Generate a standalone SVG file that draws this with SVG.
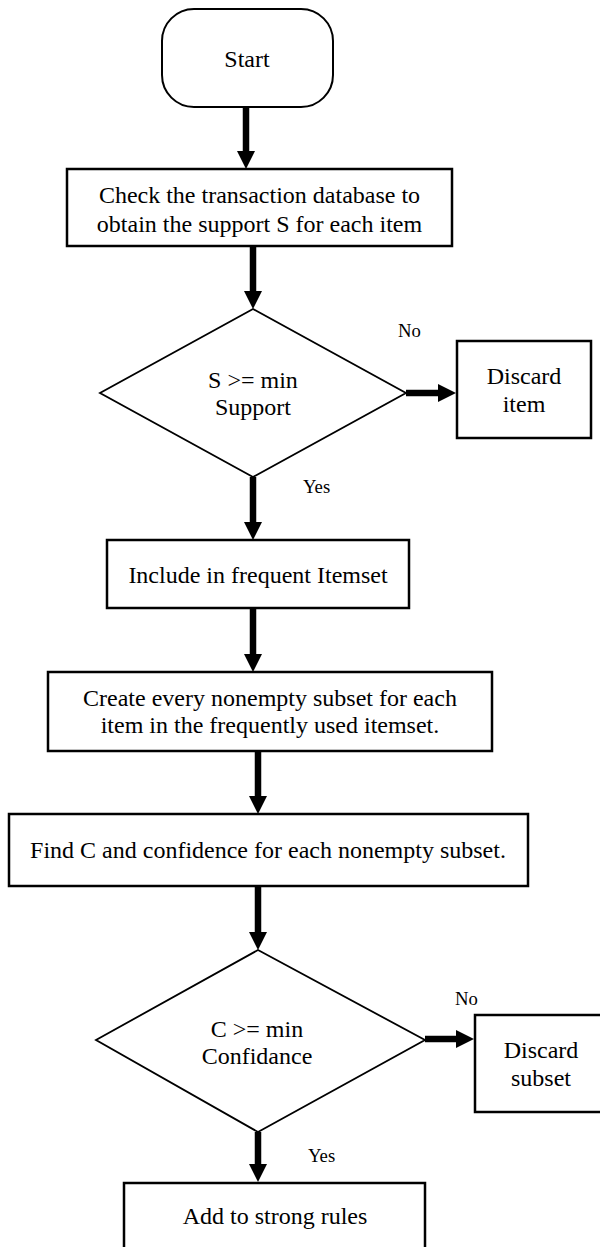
<svg xmlns="http://www.w3.org/2000/svg" width="600" height="1247" viewBox="0 0 600 1247">
<style>
.box{fill:#fff;stroke:#000;stroke-width:2.5}
.dia{fill:#fff;stroke:#000;stroke-width:1.8}
.ntext{font-family:'Liberation Serif','Times New Roman',serif;font-size:24px;fill:#000;text-anchor:middle}
.lbl{font-family:'Liberation Serif','Times New Roman',serif;font-size:18.7px;fill:#000}
.c{stroke:#000;stroke-width:6.5;fill:none;marker-end:url(#ah)}
</style>
<defs>
<marker id="ah" markerUnits="userSpaceOnUse" markerWidth="18" markerHeight="18" refX="0" refY="9" orient="auto" viewBox="0 0 18 18">
<path d="M0,0 L18,9 L0,18 Z" fill="#000"/>
</marker>
</defs>
<rect width="600" height="1247" fill="#fff"/>
<g id="connectors">
<line class="c" x1="246" y1="107" x2="246" y2="151"/>
<line class="c" x1="253" y1="246" x2="253" y2="291"/>
<line class="c" x1="406" y1="393" x2="438" y2="393"/>
<line class="c" x1="253" y1="477" x2="253" y2="522"/>
<line class="c" x1="253" y1="608" x2="253" y2="654"/>
<line class="c" x1="258" y1="751" x2="258" y2="796"/>
<line class="c" x1="258" y1="886" x2="258" y2="932"/>
<line class="c" x1="425" y1="1039" x2="456" y2="1039"/>
<line class="c" x1="258" y1="1132" x2="258" y2="1164"/>
<text class="lbl" x="398" y="337">No</text>
<text class="lbl" x="303" y="493">Yes</text>
<text class="lbl" x="455" y="1005">No</text>
<text class="lbl" x="308" y="1162">Yes</text>
</g>
<g id="start">
<rect x="162" y="9" width="171" height="98" rx="32" ry="32" fill="#fff" stroke="#000" stroke-width="2"/>
<text class="ntext" x="247" y="67">Start</text>
</g>
<g id="check">
<rect class="box" x="67" y="169" width="385" height="77"/>
<text class="ntext" x="259.5" y="203">Check the transaction database to</text>
<text class="ntext" x="259.5" y="232">obtain the support S for each item</text>
</g>
<g id="decision1">
<polygon class="dia" points="253,309 406,393 253,477 100,393"/>
<text class="ntext" x="253" y="388">S &gt;= min</text>
<text class="ntext" x="253" y="415">Support</text>
</g>
<g id="discard-item">
<rect class="box" x="457" y="341" width="134" height="97"/>
<text class="ntext" x="524" y="384">Discard</text>
<text class="ntext" x="524" y="412">item</text>
</g>
<g id="include">
<rect class="box" x="107" y="540" width="302" height="68"/>
<text class="ntext" x="258" y="583">Include in frequent Itemset</text>
</g>
<g id="create">
<rect class="box" x="48" y="672" width="444" height="79"/>
<text class="ntext" x="270" y="706">Create every nonempty subset for each</text>
<text class="ntext" x="270" y="733">item in the frequently used itemset.</text>
</g>
<g id="find">
<rect class="box" x="9" y="814" width="519" height="72"/>
<text class="ntext" x="268" y="858">Find C and confidence for each nonempty subset.</text>
</g>
<g id="decision2">
<polygon class="dia" points="258,950 425,1040 258,1132 96,1040"/>
<text class="ntext" x="257" y="1037">C &gt;= min</text>
<text class="ntext" x="257" y="1064">Confidance</text>
</g>
<g id="discard-subset">
<rect class="box" x="475" y="1015" width="132" height="97"/>
<text class="ntext" x="541" y="1058">Discard</text>
<text class="ntext" x="541" y="1086">subset</text>
</g>
<g id="add">
<rect class="box" x="124" y="1183" width="301" height="80"/>
<text class="ntext" x="275" y="1224">Add to strong rules</text>
</g>
</svg>
